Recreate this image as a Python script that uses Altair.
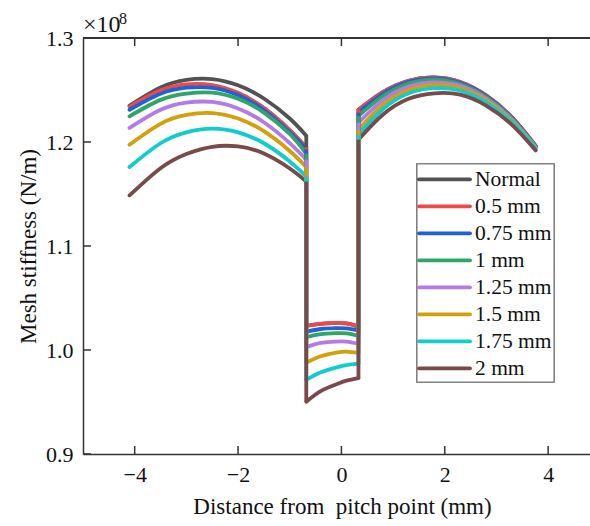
import altair as alt
import pandas as pd

series = ["Normal", "0.5 mm", "0.75 mm", "1 mm", "1.25 mm", "1.5 mm", "1.75 mm", "2 mm"]
colors = ["#525252", "#f04848", "#1f62d6", "#2fa566", "#b57ae6", "#d2a00a", "#10cccc", "#7a4a4a"]

x_left = [-4.10, -3.5, -3.0, -2.5, -2.0, -1.5, -1.0, -0.68]
x_mid = [-0.68, -0.4, -0.1, 0.1, 0.33]
x_right = [0.33, 0.8, 1.3, 1.8, 2.3, 2.8, 3.3, 3.76]

# left double-tooth region (x1e8 N/m)
normal_left = [1.235, 1.2525, 1.2598, 1.2605, 1.2545, 1.2418, 1.2226, 1.206]
mm050_left = [1.234, 1.2497, 1.2555, 1.2548, 1.2473, 1.2328, 1.2117, 1.195]
mm075_left = [1.231, 1.2464, 1.2522, 1.2521, 1.2451, 1.2308, 1.2095, 1.193]
mm100_left = [1.2247, 1.2405, 1.2465, 1.2475, 1.2415, 1.2283, 1.2077, 1.1887]
mm125_left = [1.2135, 1.231, 1.2379, 1.2385, 1.2323, 1.219, 1.1989, 1.183]
mm150_left = [1.1974, 1.2175, 1.226, 1.2278, 1.2226, 1.2104, 1.1913, 1.1759]
mm175_left = [1.1759, 1.1988, 1.2093, 1.2128, 1.2093, 1.1988, 1.1813, 1.1669]
mm200_left = [1.1486, 1.1748, 1.1885, 1.1954, 1.1957, 1.1889, 1.1745, 1.162]

# single-tooth region
normal_mid = [1.0232, 1.0252, 1.0258, 1.0255, 1.0225]
mm050_mid = [1.0232, 1.0252, 1.0258, 1.0255, 1.0225]
mm075_mid = [1.0177, 1.0202, 1.0210, 1.0207, 1.0187]
mm100_mid = [1.0123, 1.0152, 1.0162, 1.0160, 1.0136]
mm125_mid = [1.0027, 1.0068, 1.0081, 1.0080, 1.0059]
mm150_mid = [0.9879, 0.9940, 0.9975, 0.9985, 0.9972]
mm175_mid = [0.9712, 0.9785, 0.9832, 0.9855, 0.9866]
mm200_mid = [0.9503, 0.9605, 0.9670, 0.9705, 0.9729]

# right double-tooth region
normal_right = [1.2311, 1.2480, 1.2589, 1.2621, 1.2577, 1.2448, 1.2237, 1.1962]
mm050_right = [1.2311, 1.2480, 1.2589, 1.2621, 1.2577, 1.2448, 1.2237, 1.1962]
mm075_right = [1.2282, 1.2462, 1.2578, 1.2612, 1.2569, 1.2441, 1.2232, 1.1958]
mm100_right = [1.2250, 1.2440, 1.2562, 1.2600, 1.2558, 1.2432, 1.2225, 1.1953]
mm125_right = [1.2186, 1.2400, 1.2532, 1.2573, 1.2540, 1.2418, 1.2212, 1.1948]
mm150_right = [1.2118, 1.2355, 1.2502, 1.2549, 1.2518, 1.2400, 1.2200, 1.1943]
mm175_right = [1.2070, 1.2315, 1.2468, 1.2518, 1.2495, 1.2382, 1.2188, 1.1938]
mm200_right = [1.2022, 1.2262, 1.2415, 1.2468, 1.2455, 1.2350, 1.2165, 1.1919]

left_vals = [normal_left, mm050_left, mm075_left, mm100_left, mm125_left, mm150_left, mm175_left, mm200_left]
mid_vals = [normal_mid, mm050_mid, mm075_mid, mm100_mid, mm125_mid, mm150_mid, mm175_mid, mm200_mid]
right_vals = [normal_right, mm050_right, mm075_right, mm100_right, mm125_right, mm150_right, mm175_right, mm200_right]

x_ticks = [-4, -2, 0, 2, 4]
y_ticks = [0.9, 1.0, 1.1, 1.2, 1.3]

rows = []
jumps = []
for i, s in enumerate(series):
    for seg, xs, ys in (("a", x_left, left_vals[i]), ("b", x_mid, mid_vals[i]), ("c", x_right, right_vals[i])):
        for xv, yv in zip(xs, ys):
            rows.append({"series": s, "idx": i, "seg": seg, "x": xv, "y": yv})
    jumps.append({"series": s, "idx": i, "x": x_mid[0], "y": left_vals[i][-1], "y2": mid_vals[i][0]})
    jumps.append({"series": s, "idx": i, "x": x_right[0], "y": mid_vals[i][-1], "y2": right_vals[i][0]})

df = pd.DataFrame(rows)
jdf = pd.DataFrame(jumps)
ldf = pd.DataFrame({"series": series, "idx": list(range(len(series)))})

FONT = "Liberation Serif"
W, H = 507, 416
LW = 3.8

xscale = alt.Scale(domain=[-5, 4.81], nice=False, zero=False)
yscale = alt.Scale(domain=[0.9, 1.3], nice=False, zero=False)
cscale = alt.Scale(domain=series, range=colors)

lines = alt.Chart(df).mark_line(strokeWidth=LW, interpolate="natural", strokeCap="round").encode(
    x=alt.X("x:Q", scale=xscale,
            axis=alt.Axis(values=x_ticks, format="d", ticks=False, grid=False, domainColor="#333333",
                          domainWidth=1.5, labelFont=FONT, labelFontSize=22, labelColor="#111111",
                          labelPadding=10, title="Distance from\u00a0 pitch point (mm)", titleFont=FONT,
                          titleFontSize=23, titleFontWeight="normal", titleColor="#111111",
                          titleBaseline="alphabetic", titleY=59, titleX=259, titleAlign="center")),
    y=alt.Y("y:Q", scale=yscale,
            axis=alt.Axis(values=y_ticks, format=".1f", ticks=False, grid=False, domainColor="#333333",
                          domainWidth=1.5, labelFont=FONT, labelFontSize=22, labelColor="#111111",
                          labelPadding=10, title="Mesh stiffness (N/m)", titleFont=FONT,
                          titleFontSize=23, titleFontWeight="normal", titleColor="#111111",
                          titleBaseline="alphabetic", titleX=-48, titleY=208, titleAlign="center",
                          titleAngle=270)),
    color=alt.Color("series:N", scale=cscale, sort=series, legend=None),
    detail="seg:N",
    order="x:Q",
)

jump_rules = alt.Chart(jdf).mark_rule(strokeWidth=LW).encode(
    x="x:Q", y="y:Q", y2="y2:Q",
    color=alt.Color("series:N", scale=cscale, sort=series, legend=None),
)

xt = pd.DataFrame({"t": x_ticks})
yt = pd.DataFrame({"t": y_ticks})
tick_style = dict(strokeWidth=1.5, color="#333333")
bottom_ticks = alt.Chart(xt).mark_rule(**tick_style).encode(x="t:Q", y=alt.value(H), y2=alt.value(H - 8))
top_ticks = alt.Chart(xt).mark_rule(**tick_style).encode(x="t:Q", y=alt.value(0), y2=alt.value(8))
left_ticks = alt.Chart(yt).mark_rule(**tick_style).encode(y="t:Q", x=alt.value(0), x2=alt.value(8))
top_border = alt.Chart(xt).mark_rule(**tick_style).encode(x=alt.value(0), x2=alt.value(W), y=alt.value(0))

exp_main = alt.Chart(pd.DataFrame({"t": ["×10"]})).mark_text(
    font=FONT, fontSize=24, fontWeight="normal", align="left", baseline="alphabetic",
    color="#111111").encode(x=alt.value(0), y=alt.value(-6), text="t:N")
exp_sup = alt.Chart(pd.DataFrame({"t": ["8"]})).mark_text(
    font=FONT, fontSize=16, fontWeight="normal", align="left", baseline="alphabetic",
    color="#111111").encode(x=alt.value(36), y=alt.value(-14), text="t:N")

# legend (manual, built from the series list)
leg_box = alt.Chart(xt).mark_rect(fill="white", stroke="#808080", strokeWidth=1.2).encode(
    x=alt.value(334), x2=alt.value(471), y=alt.value(126), y2=alt.value(344))
leg_base = alt.Chart(ldf).transform_calculate(ly="141.3 + datum.idx * 27")
leg_lines = leg_base.mark_rule(strokeWidth=LW, strokeCap="round").encode(
    x=alt.value(336), x2=alt.value(387),
    y=alt.Y("ly:Q", scale=None),
    color=alt.Color("series:N", scale=cscale, sort=series, legend=None),
)
leg_text = leg_base.mark_text(font=FONT, fontSize=21.5, align="left", baseline="middle",
                              color="#111111", dy=1).encode(
    x=alt.value(392),
    y=alt.Y("ly:Q", scale=None),
    text="series:N",
)

chart = alt.layer(lines, jump_rules, bottom_ticks, top_ticks, left_ticks, top_border,
                  exp_main, exp_sup, leg_box, leg_lines, leg_text).properties(
    width=W, height=H,
    autosize=alt.AutoSizeParams(type="none"),
    padding={"left": 83, "top": 38, "right": 0, "bottom": 72},
    background="white",
).configure_view(stroke=None)

chart.save("out.html", embed_options={"renderer": "svg", "actions": False})
